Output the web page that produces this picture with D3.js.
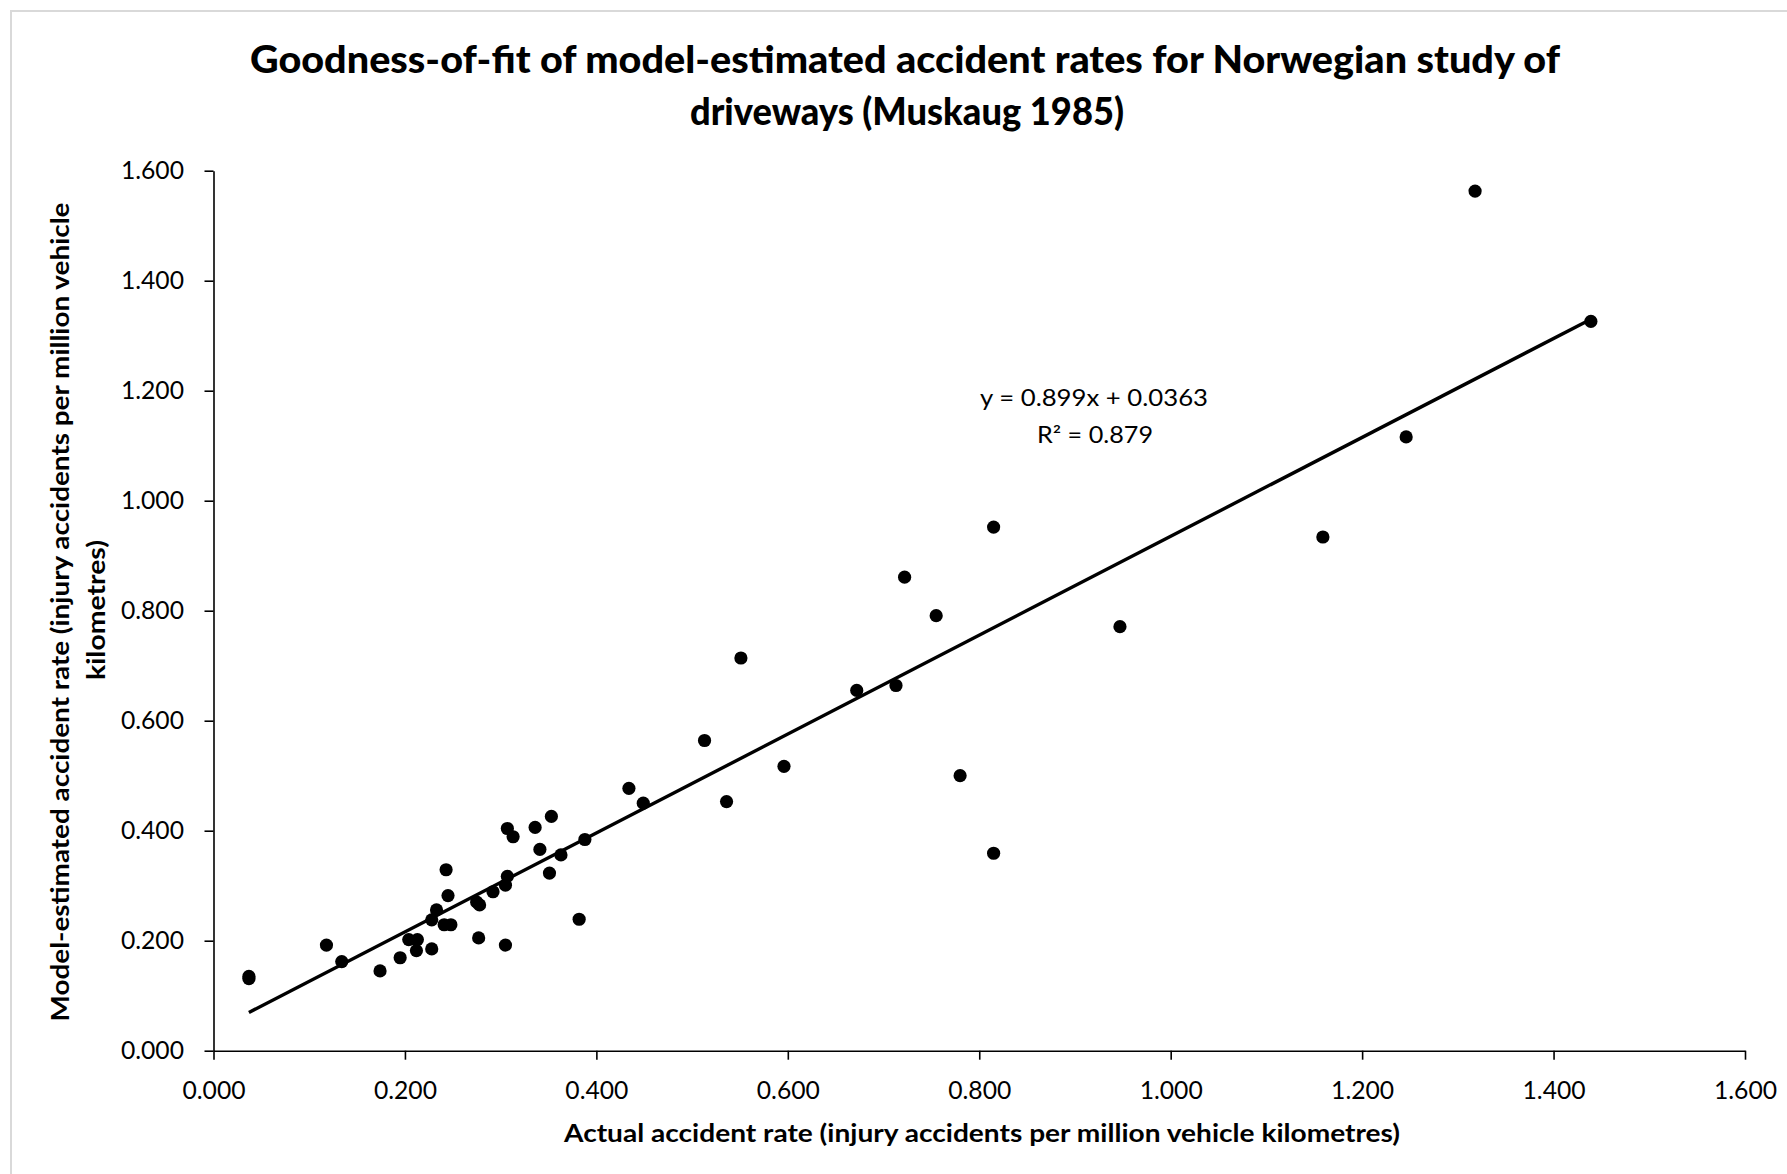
<!DOCTYPE html>
<html>
<head>
<meta charset="utf-8">
<script src="https://cdn.jsdelivr.net/npm/d3@7"></script>
<style>
  html, body { margin: 0; padding: 0; background: #fff; }
  text { font-family: Lato, "Open Sans", sans-serif; fill: #000; }
</style>
</head>
<body>
<div id="chart"></div>
<script>
// Values
var actualRate = [0.037, 0.037, 0.118, 0.134, 0.174, 0.195, 0.204, 0.213, 0.212, 0.228,
                  0.228, 0.233, 0.243, 0.245, 0.241, 0.248, 0.277, 0.275, 0.278, 0.292,
                  0.305, 0.305, 0.307, 0.307, 0.313, 0.336, 0.341, 0.353, 0.351, 0.363,
                  0.388, 0.382, 0.434, 0.449, 0.513, 0.551, 0.536, 0.596, 0.672, 0.713,
                  0.722, 0.755, 0.780, 0.815, 0.815, 0.947, 1.159, 1.246, 1.318, 1.439];
var modelRate  = [0.135, 0.131, 0.192, 0.162, 0.145, 0.169, 0.202, 0.202, 0.182, 0.185,
                  0.238, 0.256, 0.329, 0.282, 0.229, 0.229, 0.205, 0.270, 0.265, 0.289,
                  0.192, 0.301, 0.317, 0.404, 0.389, 0.406, 0.366, 0.426, 0.323, 0.356,
                  0.384, 0.239, 0.477, 0.450, 0.564, 0.714, 0.453, 0.517, 0.655, 0.664,
                  0.861, 0.791, 0.500, 0.359, 0.952, 0.771, 0.934, 1.116, 1.563, 1.326];
var xTicks = [0, 0.2, 0.4, 0.6, 0.8, 1.0, 1.2, 1.4, 1.6];
var yTicks = [0, 0.2, 0.4, 0.6, 0.8, 1.0, 1.2, 1.4, 1.6];
var trendSlope = 0.899;
var trendIntercept = 0.0363;
var trendLabel = ["y = 0.899x + 0.0363", "R² = 0.879"];
var titleLines = ["Goodness-of-fit of model-estimated accident rates for Norwegian study of",
                  "driveways (Muskaug 1985)"];
var xTitle = "Actual accident rate (injury accidents per million vehicle kilometres)";
var yTitleLines = ["Model-estimated accident rate (injury accidents per million vehicle",
                   "kilometres)"];

var W = 1787, H = 1174;
var plotL = 213.5, plotR = 1745, plotT = 170.7, plotB = 1050.7;

var svg = d3.select("#chart").append("svg")
    .attr("width", W)
    .attr("height", H);

// chart area border (only top/left edges visible in the picture)
svg.append("rect")
    .attr("x", 11).attr("y", 11)
    .attr("width", W + 20).attr("height", H + 20)
    .attr("fill", "#fff")
    .attr("stroke", "#d9d9d9")
    .attr("stroke-width", 2);

var xScale = d3.scaleLinear().domain([0, 1.6]).range([plotL, plotR]);
var yScale = d3.scaleLinear().domain([0, 1.6]).range([plotB, plotT]);
var fmt = d3.format(".3f");

// squeeze a text element to a given width
function fit(sel, width) {
    sel.attr("textLength", width).attr("lengthAdjust", "spacingAndGlyphs");
}

var xAxis = d3.axisBottom(xScale)
    .tickValues(xTicks)
    .tickFormat(fmt)
    .tickSize(9)
    .tickSizeOuter(0);

var gx = svg.append("g")
    .attr("transform", "translate(0," + plotB + ")")
    .call(xAxis);
gx.selectAll("text")
    .attr("y", 48.6).attr("dy", 0)
    .style("font-size", "24.7px");

var yAxis = d3.axisLeft(yScale)
    .tickValues(yTicks)
    .tickFormat(fmt)
    .tickSize(9)
    .tickSizeOuter(0)
    .tickPadding(20.5);

var gy = svg.append("g")
    .attr("transform", "translate(" + plotL + ",0)")
    .call(yAxis);
gy.selectAll("text")
    .style("font-size", "24.7px");

svg.selectAll(".domain, .tick line")
    .attr("stroke", "#000")
    .attr("stroke-width", 1.6);
svg.selectAll(".tick text").attr("fill", "#000");

// linear trend line over the range of the data
var xExt = d3.extent(actualRate);
var trend = xExt.map(function(x) { return [x, trendSlope * x + trendIntercept]; });
svg.append("path")
    .datum(trend)
    .attr("fill", "none")
    .attr("stroke", "#000")
    .attr("stroke-width", 3.4)
    .attr("d", d3.line()
        .x(function(d) { return xScale(d[0]); })
        .y(function(d) { return yScale(d[1]); }));

svg.append("g")
    .selectAll("circle")
    .data(actualRate)
    .enter()
    .append("circle")
    .attr("cx", function(d) { return xScale(d); })
    .attr("cy", function(d, i) { return yScale(modelRate[i]); })
    .attr("r", 6.6)
    .attr("fill", "#000");

// trend equation
var eq = svg.append("g").attr("text-anchor", "middle").style("font-size", "22.5px");
fit(eq.append("text").attr("x", 1094).attr("y", 406).text(trendLabel[0]), 228);
fit(eq.append("text").attr("x", 1095).attr("y", 442.5).text(trendLabel[1]), 116);

// title
var tg = svg.append("g")
    .attr("text-anchor", "middle")
    .style("font-size", "37px")
    .style("font-weight", "900");
fit(tg.append("text").attr("x", 905).attr("y", 73).text(titleLines[0]), 1310);
fit(tg.append("text").attr("x", 907).attr("y", 125).text(titleLines[1]), 434);

// x axis title
fit(svg.append("text")
    .attr("x", 982).attr("y", 1142)
    .attr("text-anchor", "middle")
    .style("font-size", "24px")
    .style("font-weight", "bold")
    .text(xTitle), 836);

// y axis title
var yt = svg.append("g")
    .attr("text-anchor", "middle")
    .style("font-size", "25px")
    .style("font-weight", "bold");
fit(yt.append("text")
    .attr("transform", "translate(69,612) rotate(-90)")
    .text(yTitleLines[0]), 819);
fit(yt.append("text")
    .attr("transform", "translate(105,610) rotate(-90)")
    .text(yTitleLines[1]), 140);
</script>
</body>
</html>
